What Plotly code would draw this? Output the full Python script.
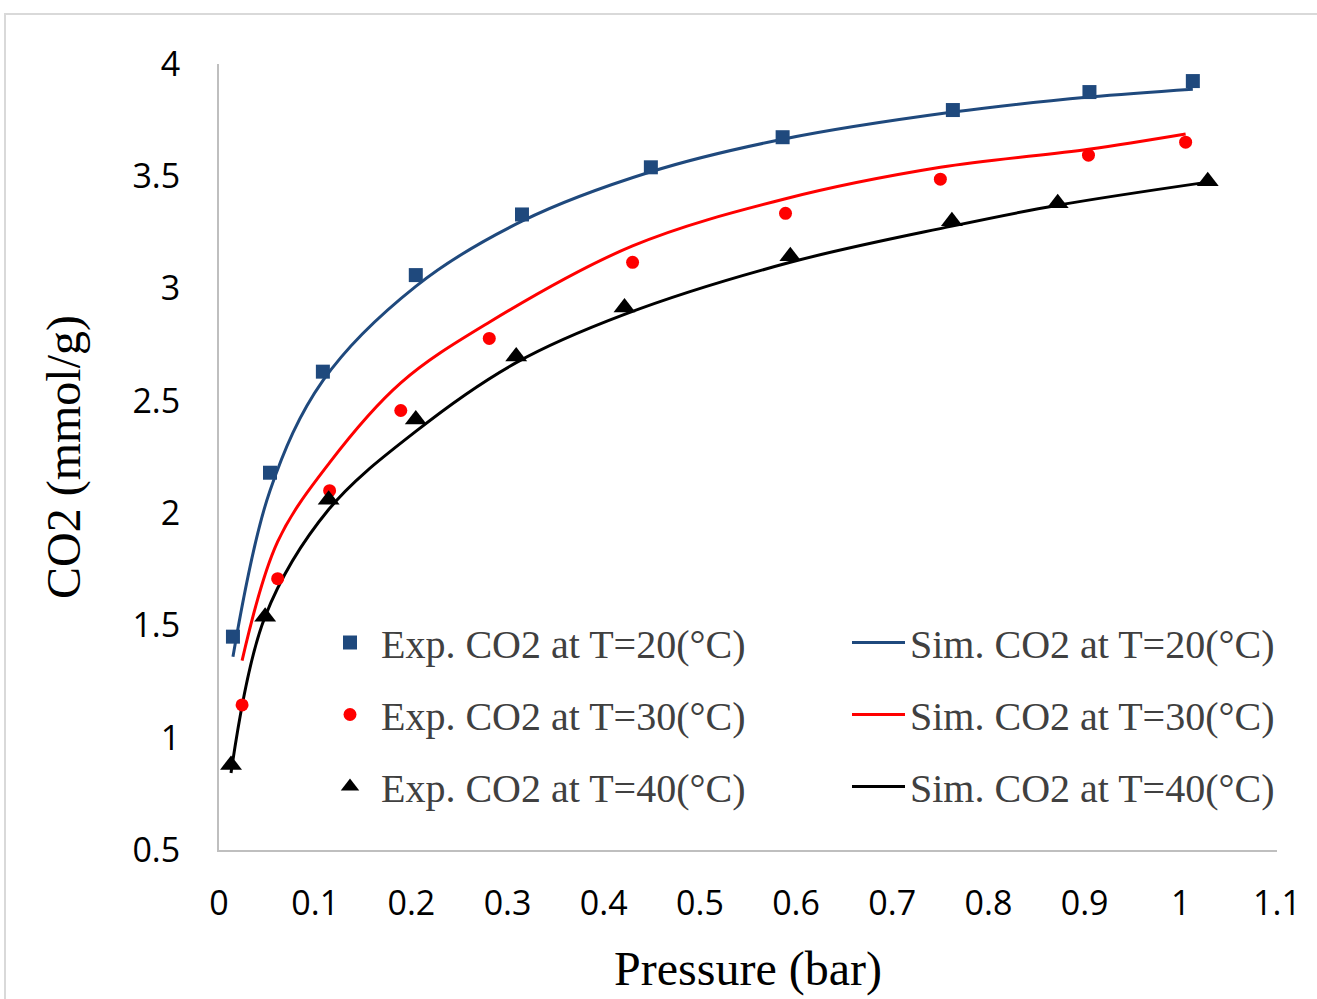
import plotly.graph_objects as go

# ---- data ----
x_20 = [0.0145, 0.053, 0.108, 0.2046, 0.315, 0.449, 0.586, 0.763, 0.905, 1.0125]
exp_20 = [1.45, 2.18, 2.63, 3.06, 3.33, 3.54, 3.674, 3.795, 3.875, 3.924]
sim_20 = [1.36, 2.10, 2.59, 3.01, 3.30, 3.52, 3.665, 3.786, 3.853, 3.888]

x_30 = [0.024, 0.061, 0.115, 0.189, 0.281, 0.430, 0.589, 0.750, 0.904, 1.005]
exp_30 = [1.146, 1.708, 2.10, 2.457, 2.778, 3.117, 3.335, 3.487, 3.594, 3.652]
sim_30 = [1.343, 1.873, 2.225, 2.58, 2.85, 3.19, 3.40, 3.54, 3.62, 3.688]

x_40 = [0.0125, 0.048, 0.114, 0.2046, 0.309, 0.4216, 0.594, 0.762, 0.872, 1.028]
exp_40 = [0.879, 1.539, 2.06, 2.417, 2.698, 2.916, 3.144, 3.30, 3.38, 3.478]
sim_40 = [0.843, 1.54, 2.016, 2.364, 2.67, 2.885, 3.117, 3.278, 3.371, 3.474]

x_ticks = [0, 0.1, 0.2, 0.3, 0.4, 0.5, 0.6, 0.7, 0.8, 0.9, 1, 1.1]
y_ticks = [0.5, 1, 1.5, 2, 2.5, 3, 3.5, 4]

BLUE = "#1f497d"
RED = "#ff0000"
BLACK = "#000000"
SERIF = "Liberation Serif, Times New Roman, serif"
SANS = "Open Sans, sans-serif"

fig = go.Figure()

series = [
    ("20", x_20, exp_20, sim_20, BLUE, "square", 14),
    ("30", x_30, exp_30, sim_30, RED, "circle", 13),
    ("40", x_40, exp_40, sim_40, BLACK, "triangle-up", 19),
]

for t, xs, ye, ys, col, sym, sz in series:
    fig.add_trace(go.Scatter(
        x=xs, y=ys, mode="lines", line=dict(color=col, width=3, shape="spline"),
        name=f"Sim. CO2 at T={t}(°C)", legend="legend2", legendgroup="s" + t,
    ))
for t, xs, ye, ys, col, sym, sz in series:
    fig.add_trace(go.Scatter(
        x=xs, y=ye, mode="markers", marker=dict(color=col, symbol=sym, size=sz, line=dict(width=0)),
        name=f"Exp. CO2 at T={t}(°C)", legend="legend", legendgroup="e" + t,
    ))

L, R, T, B = 219, 40, 64, 149
W, H = 1317, 999
pw, ph = W - L - R, H - T - B

def px_x(p):
    return (p - L) / pw

def px_y(p):
    return 1 - (p - T) / ph

legend_common = dict(
    font=dict(family=SERIF, size=40, color="#404040"),
    bgcolor="rgba(0,0,0,0)", traceorder="grouped", tracegroupgap=17,
    xanchor="left", yanchor="top",
)

fig.update_layout(
    width=W, height=H,
    margin=dict(l=L, r=R, t=T, b=B),
    paper_bgcolor="white", plot_bgcolor="white",
    showlegend=True,
    legend=dict(x=px_x(319), y=px_y(610), itemwidth=52, **legend_common),
    legend2=dict(x=px_x(847), y=px_y(610), itemwidth=53, **legend_common),
    xaxis=dict(
        range=[0, 1.1], tickvals=x_ticks, ticktext=[f"{v:g}" for v in x_ticks],
        showgrid=False, zeroline=False, showline=True, linecolor="#bfbfbf", linewidth=2,
        ticks="", tickfont=dict(family=SANS, size=34, color="black"),
        ticklabelstandoff=22,
        title=dict(text="Pressure (bar)", font=dict(family=SERIF, size=48, color="black"), standoff=28),
    ),
    yaxis=dict(
        range=[0.5, 4], tickvals=y_ticks, ticktext=[f"{v:g}" for v in y_ticks],
        showgrid=False, zeroline=False, showline=True, linecolor="#bfbfbf", linewidth=2,
        ticks="", tickfont=dict(family=SANS, size=34, color="black"),
        ticklabelstandoff=30,
        title=dict(text="CO2 (mmol/g)", font=dict(family=SERIF, size=48, color="black"), standoff=37),
    ),
    shapes=[dict(
        type="rect", xref="paper", yref="paper",
        x0=px_x(5), x1=px_x(1330), y0=px_y(1010), y1=px_y(14),
        line=dict(color="#d9d9d9", width=2), fillcolor="rgba(0,0,0,0)", layer="below",
    )],
)

fig.write_html(
    "out.html",
    config={"displayModeBar": False},
    post_script="document.body.style.margin='0';document.body.style.overflow='hidden';",
)
